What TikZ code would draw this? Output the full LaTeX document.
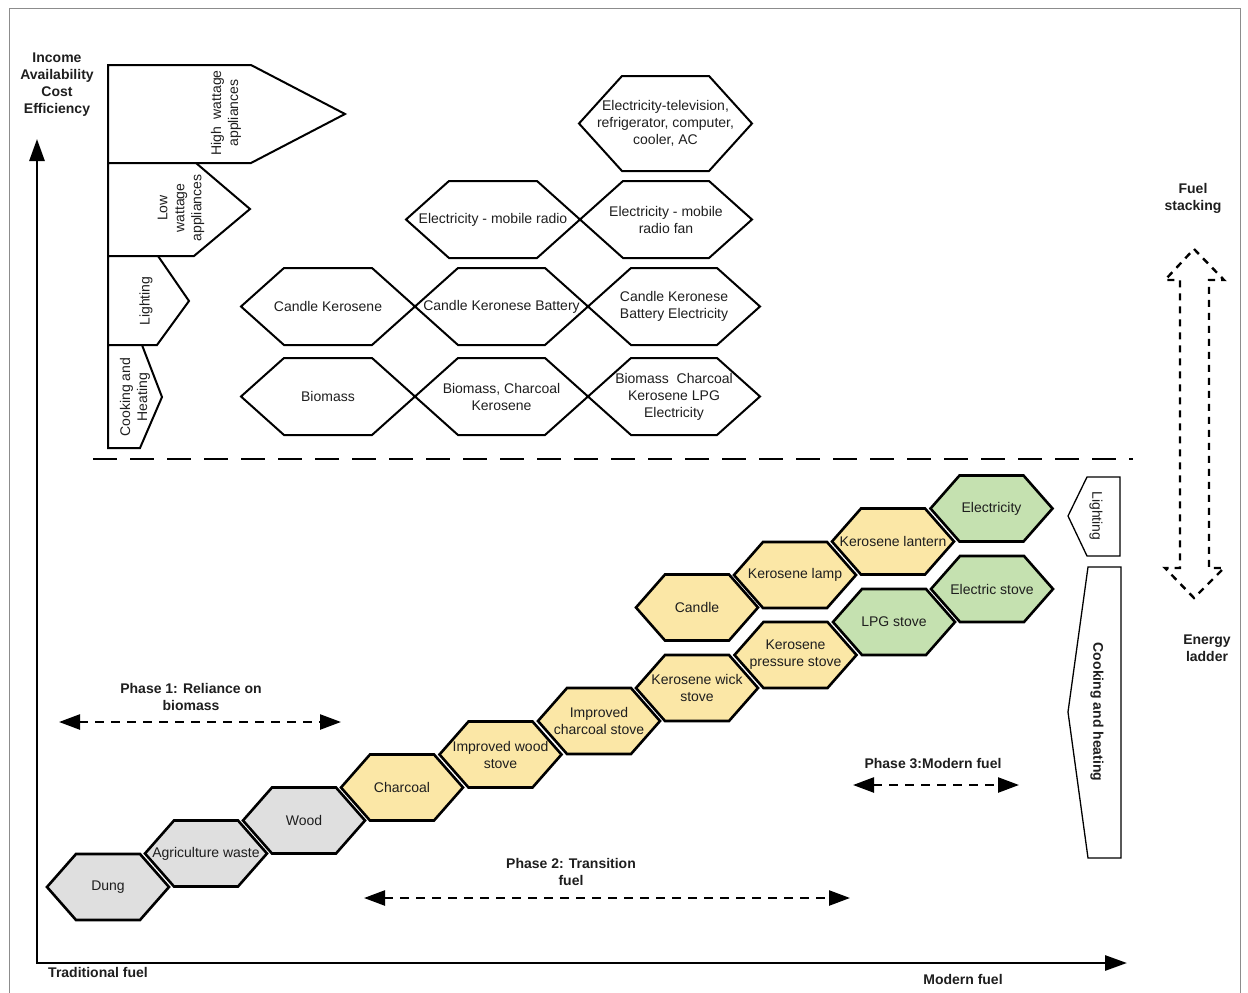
\documentclass[tikz,border=0pt]{standalone}
\usepackage{fontspec}
\setmainfont{Liberation Sans}
\usetikzlibrary{arrows.meta}
\definecolor{hexgray}{HTML}{DFDFDF}
\definecolor{hexyellow}{HTML}{FBE7A6}
\definecolor{hexgreen}{HTML}{C5E1B0}
\definecolor{framegray}{HTML}{8C8C8C}
\definecolor{txt}{HTML}{1E1E1E}
\newcommand\hexa[8]{%
  \draw[#7] ({#2-#4},#3) -- ({#2-#4+#6},{#3-#5}) -- ({#2+#4-#6},{#3-#5}) -- ({#2+#4},#3) -- ({#2+#4-#6},{#3+#5}) -- ({#2-#4+#6},{#3+#5}) -- cycle;
  \node[hextext] (#1) at (#2,#3) {#8};}
\tikzset{
  hextext/.style={align=center,inner sep=0pt,text=txt,font=\fontsize{14}{17}\selectfont},
  boldtext/.style={align=center,inner sep=0pt,text=txt,font=\fontsize{14}{17}\selectfont\bfseries},
  tabtext/.style={align=center,inner sep=0pt,text=txt,font=\fontsize{14}{17}\selectfont},
  tabshape/.style={draw=black,line width=2pt,line join=miter,fill=white},
  tophex/.style={draw=black,line width=2pt,line join=miter},
  greyhex/.style={draw=black,line width=2.6pt,line join=miter,fill=hexgray},
  yellowhex/.style={draw=black,line width=2.6pt,line join=miter,fill=hexyellow},
  greenhex/.style={draw=black,line width=2.6pt,line join=miter,fill=hexgreen},
  sidetab/.style={draw=black,line width=1.3pt,line join=miter,fill=white},
  axisline/.style={line width=2.8pt,{Triangle[length=22pt,width=15pt]}-{Triangle[length=22pt,width=15pt]}},
  phasearrow/.style={line width=2.4pt,dash pattern=on 9pt off 7pt,{Triangle[length=21pt,width=15pt]}-{Triangle[length=21pt,width=15pt]}},
  separator/.style={line width=2.6pt,dash pattern=on 24pt off 13pt},
  stackarrow/.style={line width=2.4pt,dash pattern=on 7pt off 6pt,line join=miter}
}
\begin{document}
\begin{tikzpicture}[x=1pt,y=-1pt]
\useasboundingbox (0,0) rectangle (1248,993);
% frame
\draw[framegray,line width=1.5pt] (9.5,993) -- (9.5,8.5) -- (1240.5,8.5) -- (1240.5,993);

% ---- left tabs
\draw[tabshape] (108,65) -- (251,65) -- (345,114) -- (251,163) -- (108,163) -- cycle;
\node[tabtext,rotate=90] (tabhigh) at (226,113) {High\ \ wattage\\appliances};
\draw[tabshape] (108,163) -- (196,163) -- (250,209) -- (194,256) -- (108,256) -- cycle;
\node[tabtext,rotate=90] (tablow) at (181,208) {Low\\wattage\\appliances};
\draw[tabshape] (108,256) -- (158,256) -- (189,301) -- (157,345) -- (108,345) -- cycle;
\node[tabtext,rotate=90] (tablight) at (146,301) {Lighting};
\draw[tabshape] (108,345) -- (142,345) -- (162,397) -- (140,448) -- (108,448) -- cycle;
\node[tabtext,rotate=90] (tabcook) at (135,397) {Cooking and\\Heating};

% ---- top hexagons
\hexa{tv}{665.5}{123.5}{86.5}{47.5}{43}{tophex}{Electricity-television,\\refrigerator, computer,\\cooler, AC}
\hexa{mobradio}{493}{219.5}{87}{38.5}{43}{tophex}{Electricity - mobile radio}
\hexa{mobfan}{666}{219.5}{86}{38.5}{43}{tophex}{Electricity - mobile\\radio fan}
\hexa{ck}{328}{306.5}{87}{38.5}{43}{tophex}{Candle Kerosene}
\hexa{ckb}{501.5}{306.5}{86.5}{38.5}{43}{tophex}{Candle Keronese Battery}
\hexa{ckbe}{674}{306.5}{86}{38.5}{43}{tophex}{Candle Keronese\\Battery Electricity}
\hexa{bio}{328}{396.5}{87}{38.5}{43}{tophex}{Biomass}
\hexa{bck}{501.5}{396.5}{86.5}{38.5}{43}{tophex}{Biomass, Charcoal\\Kerosene}
\hexa{bckle}{674}{396.5}{86}{38.5}{43}{tophex}{Biomass\ \ Charcoal\\Kerosene LPG\\Electricity}

% ---- separator
\coordinate (sepL) at (93,459);
\coordinate (sepR) at (1133,459);
\draw[separator] (sepL) -- (sepR);

% ---- lower hexagons (cooking row)
\hexa{dung}{108}{887}{61}{33}{29}{greyhex}{Dung}
\hexa{agri}{206}{853.5}{61}{33}{29}{greyhex}{Agriculture waste}
\hexa{wood}{304}{820.5}{61}{33}{29}{greyhex}{Wood}
\hexa{charcoal}{402}{787.5}{61}{33}{29}{yellowhex}{Charcoal}
\hexa{iws}{500.5}{754.5}{61}{33}{29}{yellowhex}{Improved wood\\stove}
\hexa{ics}{599}{721}{61}{33}{29}{yellowhex}{Improved\\charcoal stove}
\hexa{kws}{697}{688}{61}{33}{29}{yellowhex}{Kerosene wick\\stove}
\hexa{kps}{795.5}{655}{61}{33}{29}{yellowhex}{Kerosene\\pressure stove}
\hexa{lpg}{894}{622}{61}{33}{29}{greenhex}{LPG stove}
\hexa{estove}{992}{589}{61}{33}{29}{greenhex}{Electric stove}
% lighting row
\hexa{candle}{697}{607.5}{61}{33}{29}{yellowhex}{Candle}
\hexa{klamp}{795}{575}{61}{33}{29}{yellowhex}{Kerosene lamp}
\hexa{klantern}{893}{541.5}{61}{33}{29}{yellowhex}{Kerosene lantern}
\hexa{elec}{991.5}{508.5}{61}{33}{29}{greenhex}{Electricity}

% ---- right side tabs
\draw[sidetab] (1120,477) -- (1087,477) -- (1068,516) -- (1087,556) -- (1120,556) -- cycle;
\node[tabtext,rotate=-90] (rlight) at (1096,516) {Lighting};
\draw[sidetab] (1121,567) -- (1088,567) -- (1068,712) -- (1088,858) -- (1121,858) -- cycle;
\node[boldtext,rotate=-90] (rcook) at (1097,712) {Cooking and heating};

% ---- fuel stacking arrow
\draw[stackarrow] (1194,249) -- (1224,280) -- (1209,280) -- (1209,568) -- (1224,568) -- (1194,598) -- (1165,568) -- (1180,568) -- (1180,280) -- (1165,280) -- cycle;
\node[boldtext] (fuelstack) at (1193,198.5) {Fuel\\stacking};
\node[boldtext] (energyladder) at (1207,648) {Energy\\ladder};

% ---- axes
\coordinate (origin) at (37,963);
\coordinate (ytop) at (37,139);
\coordinate (xend) at (1127,963);
\draw[axisline] (ytop) -- (origin) -- (xend);
\node[boldtext] (yaxislabel) at (57,84.5) {Income\\Availability\\Cost\\Efficiency};
\node[boldtext] (trad) at (98,972) {Traditional fuel};
\node[boldtext] (modern) at (963,979) {Modern fuel};

% ---- phases
\node[boldtext] (ph1) at (191,696.5) {Phase 1: Reliance on\\biomass};
\coordinate (ph1a) at (59,722);
\coordinate (ph1b) at (341,722);
\draw[phasearrow] (ph1a) -- (ph1b);
\node[boldtext] (ph2) at (571,871.5) {Phase 2: Transition\\fuel};
\coordinate (ph2a) at (364,898);
\coordinate (ph2b) at (850,898);
\draw[phasearrow] (ph2a) -- (ph2b);
\node[boldtext] (ph3) at (933,763) {Phase 3:Modern fuel};
\coordinate (ph3a) at (853,785);
\coordinate (ph3b) at (1019,785);
\draw[phasearrow] (ph3a) -- (ph3b);
\end{tikzpicture}
\end{document}
